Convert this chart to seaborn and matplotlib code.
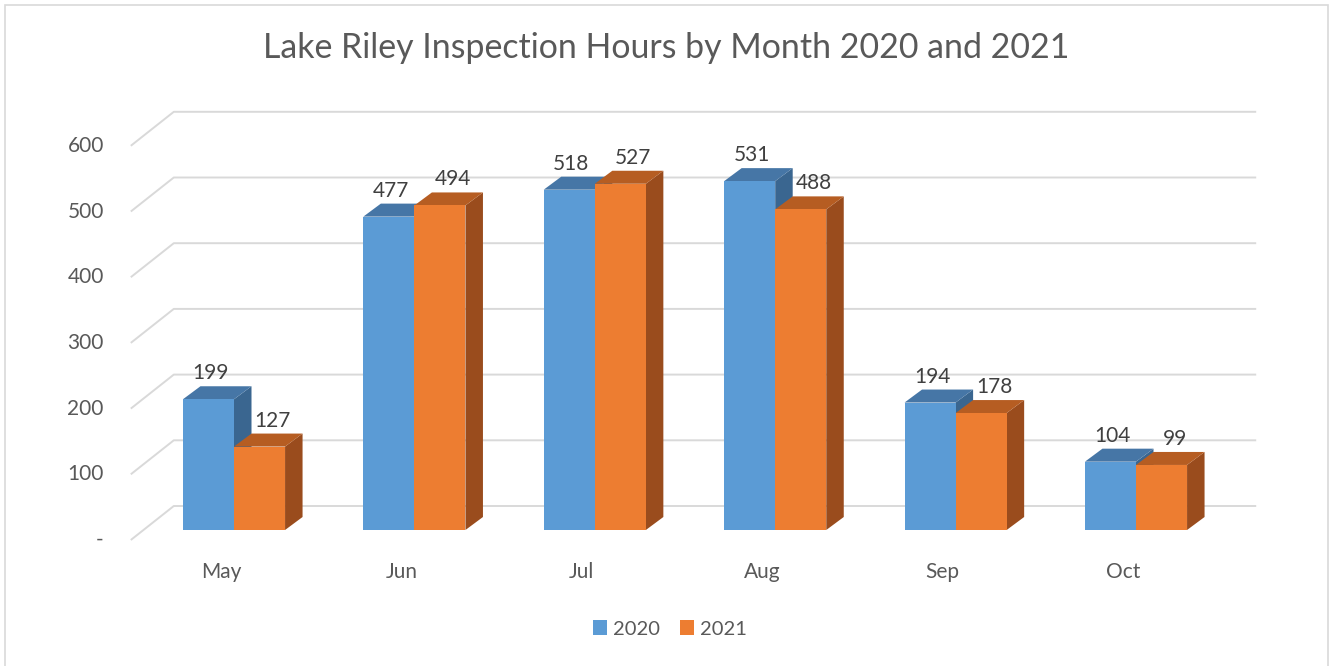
import matplotlib
matplotlib.use("Agg")
import matplotlib.pyplot as plt
from matplotlib.patches import Polygon, Rectangle
from matplotlib.transforms import offset_copy
import pandas as pd
import seaborn as sns

# ---- data -------------------------------------------------------------
months = ["May", "Jun", "Jul", "Aug", "Sep", "Oct"]
years = ["2020", "2021"]
hours_2020 = [199, 477, 518, 531, 194, 104]
hours_2021 = [127, 494, 527, 488, 178, 99]
y_ticks = [0, 100, 200, 300, 400, 500, 600]
y_tick_labels = ["-", "100", "200", "300", "400", "500", "600"]
title = "Lake Riley Inspection Hours by Month 2020 and 2021"

df = pd.DataFrame({
    "Month": months * 2,
    "Year": [years[0]] * len(months) + [years[1]] * len(months),
    "Hours": hours_2020 + hours_2021,
})

# ---- style ------------------------------------------------------------
front_colors = ["#5B9BD5", "#ED7D31"]
top_colors = ["#4676A6", "#B65D22"]
side_colors = ["#3A6690", "#9A4C1D"]
grid_color = "#D9D9D9"
text_color = "#595959"
label_color = "#404040"

sns.set_theme(style="white")
plt.rcParams["font.family"] = ["Lato", "DejaVu Sans"]

W, H = 1329, 666
fig = plt.figure(figsize=(W / 100, H / 100), dpi=100)

# axes box = front plane of the columns (pixels)
x_left, x_right = 143.8, 1226.2
y_top, y_base = 135.8, 530.0
ax = fig.add_axes([x_left / W, 1 - y_base / H,
                   (x_right - x_left) / W, (y_base - y_top) / H])

sns.barplot(data=df, x="Month", y="Hours", hue="Year", order=months,
            hue_order=years, palette=front_colors, saturation=1,
            width=0.566, gap=0, linewidth=0, edgecolor="none",
            legend=True, ax=ax)
ax.set_xlim(-0.5, len(months) - 0.5)
ax.set_ylim(0, 600)

# data units per pixel
kx = (len(months)) / (x_right - x_left)
ky = 600 / (y_base - y_top)

# depth of the pseudo-3D walls and columns (pixels)
floor_front = (-13, -10)
back_wall = (30, 24)
col_dx, col_dy = 17.5, 13

# gridlines: floor diagonal + back wall line
x_end = len(months) - 0.5
for v in y_ticks:
    xs = [-0.5 + floor_front[0] * kx, -0.5 + back_wall[0] * kx,
          x_end + back_wall[0] * kx]
    ys = [v + floor_front[1] * ky, v + back_wall[1] * ky,
          v + back_wall[1] * ky]
    ax.plot(xs, ys, color=grid_color, lw=1.4, zorder=1, clip_on=False,
            solid_capstyle="butt")

# y tick labels at the front edge of the floor
ytick_tf = offset_copy(ax.transData, fig=fig, x=floor_front[0] - 27,
                       y=floor_front[1], units="dots")
for v, lab in zip(y_ticks, y_tick_labels):
    ax.text(-0.5, v, lab, transform=ytick_tf, ha="right", va="center",
            fontsize=15, color=text_color, clip_on=False)

# category labels
xtick_tf = offset_copy(ax.transData, fig=fig, x=-13, y=-42, units="dots")
for i, m in enumerate(months):
    ax.text(i, 0, m, transform=xtick_tf, ha="center", va="center",
            fontsize=15, color=text_color, clip_on=False)

# extrude every column: side and top faces, plus value labels
label_dx = [2, 13]
bars = [p for p in ax.patches if isinstance(p, Rectangle) and p.get_height() > 0]
for bar in bars:
    x, w, h = bar.get_x(), bar.get_width(), bar.get_height()
    cx = x + w / 2
    hue = 0 if cx < round(cx) else 1
    dx, dy = col_dx * kx, col_dy * ky
    z = 3 + hue * 0.2
    side = Polygon([(x + w, 0), (x + w + dx, dy), (x + w + dx, h + dy),
                    (x + w, h)], closed=True, facecolor=side_colors[hue],
                   edgecolor="none", zorder=z, clip_on=False)
    top = Polygon([(x, h), (x + w, h), (x + w + dx, h + dy), (x + dx, h + dy)],
                  closed=True, facecolor=top_colors[hue], edgecolor="none",
                  zorder=z, clip_on=False)
    ax.add_patch(side)
    ax.add_patch(top)
    bar.set_zorder(z + 0.1)
    bar.set_clip_on(False)
    tf = offset_copy(ax.transData, fig=fig, x=label_dx[hue],
                     y=col_dy + 13, units="dots")
    ax.text(cx, h, f"{int(round(h))}", transform=tf, ha="center",
            va="center", fontsize=15, color=label_color, zorder=6,
            clip_on=False)

ax.set_axis_off()

# legend under the plot
sns.move_legend(ax, "center", bbox_to_anchor=(670 / W, 1 - 629 / H),
                bbox_transform=fig.transFigure, ncol=2, frameon=False,
                title=None, fontsize=14.5, handlelength=0.7, handleheight=0.7,
                handletextpad=0.3, columnspacing=1.0)
for t in ax.get_legend().get_texts():
    t.set_color(text_color)

# title
fig.text(666 / W, 1 - 48 / H, title, ha="center", va="center",
         fontsize=24.4, color=text_color)

# chart frame
fig.patches.append(Rectangle((4.5 / W, -0.05), (1328 - 4.5) / W,
                             1.05 - 5.5 / H, transform=fig.transFigure,
                             fill=False, edgecolor=grid_color, lw=1.2))

fig.savefig("out.png", dpi=100, facecolor="white")
